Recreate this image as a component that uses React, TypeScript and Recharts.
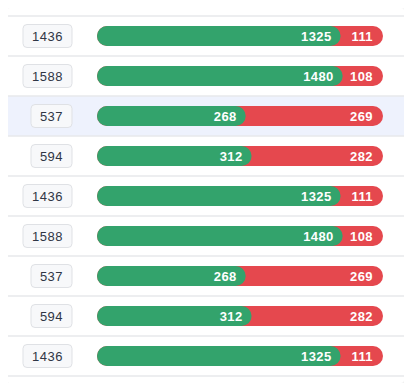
import { BarChart, Bar, XAxis, YAxis, CartesianGrid, LabelList } from "recharts";

// one entry per row, top to bottom
const rowIds = ["r1", "r2", "r3", "r4", "r5", "r6", "r7", "r8", "r9"];
const passed = [1325, 1480, 268, 312, 1325, 1480, 268, 312, 1325];
const failed = [111, 108, 269, 282, 111, 108, 269, 282, 111];
const highlightedRow = 2;

const data = rowIds.map((id, i) => {
  const total = passed[i] + failed[i];
  return { id, passed: passed[i], failed: failed[i], total, share: passed[i] / total };
});

const CARD_W = 397;
const CARD_H = 375;
const MARGIN = { top: 8, right: 21, bottom: 7, left: 0 };
const AXIS_W = 90;
// the green segment never shrinks to nothing, nor swallows the red one
const LEAD = 0.165;
const TAIL = 0.112;

const GREEN = "#33a36c";
const RED = "#e5484e";
const HIGHLIGHT = "#eef2fd";
const LINE = "#e7e8eb";
const FONT = "'Liberation Sans', Arial, Helvetica, sans-serif";

// row boundaries: band edges of the category axis
const rowEdges = ({ offset }: any) => {
  const n = rowIds.length;
  return Array.from({ length: n + 1 }, (_, i) => offset.top + (i * offset.height) / n);
};

const TotalTick = ({ x, y, payload }: any) => {
  const row = data.find((d) => d.id === payload.value);
  if (!row) return null;
  const label = String(row.total);
  const w = label.length * 8 + 17;
  const right = x - 25;
  return (
    <g>
      <rect
        x={right - w}
        y={y - 11.5}
        width={w}
        height={23}
        rx={4}
        fill="#f7f8fa"
        stroke="#dfe1e5"
      />
      <text
        x={right - w / 2}
        y={y}
        dy="0.36em"
        textAnchor="middle"
        fontFamily={FONT}
        fontSize={13}
        letterSpacing={0.5}
        fill="#2f3645"
      >
        {label}
      </text>
    </g>
  );
};

const box = (props: any) => {
  const vb = props.viewBox ?? props;
  return { x: Number(vb.x), y: Number(vb.y), width: Number(vb.width), height: Number(vb.height) };
};

const PassedLabel = (props: any) => {
  const { x, y, width, height } = box(props);
  return (
    <text
      x={x + width - 9}
      y={y + height / 2}
      dy="0.36em"
      textAnchor="end"
      fontFamily={FONT}
      fontSize={13}
      fontWeight={700}
      letterSpacing={0.4}
      fill="#fff"
    >
      {props.value}
    </text>
  );
};

const FailedLabel = (props: any) => {
  const { y, height } = box(props);
  return (
    <text
      x={CARD_W - MARGIN.right - 10}
      y={y + height / 2}
      dy="0.36em"
      textAnchor="end"
      fontFamily={FONT}
      fontSize={13}
      fontWeight={700}
      letterSpacing={0.4}
      fill="#fff"
    >
      {props.value}
    </text>
  );
};

export default function App() {
  return (
    <div
      style={{
        width: CARD_W,
        height: CARD_H,
        marginLeft: -1,
        background: "#fff",
        borderRadius: 3,
        boxShadow: "0 1px 7px rgba(0,0,0,0.18)",
      }}
    >
      <BarChart
        width={CARD_W}
        height={CARD_H}
        data={data}
        layout="vertical"
        margin={MARGIN}
        barSize={20}
      >
        <CartesianGrid
          vertical={false}
          x={0}
          width={CARD_W}
          stroke={LINE}
          strokeWidth={1.5}
          horizontalCoordinatesGenerator={rowEdges}
          horizontalFill={rowIds.map((_, i) => (i === highlightedRow ? HIGHLIGHT : "transparent"))}
          fillOpacity={1}
        />
        <XAxis type="number" domain={[0, 1 + LEAD + TAIL]} hide allowDataOverflow />
        <YAxis
          type="category"
          dataKey="id"
          width={AXIS_W}
          axisLine={false}
          tickLine={false}
          tickSize={0}
          tickMargin={0}
          tick={<TotalTick />}
          interval={0}
        />
        <Bar
          dataKey={(d: any) => d.share + LEAD}
          fill={GREEN}
          radius={10}
          background={{ fill: RED, radius: 10 }}
          isAnimationActive={false}
        >
          <LabelList dataKey="passed" content={PassedLabel} />
          <LabelList dataKey="failed" content={FailedLabel} />
        </Bar>
      </BarChart>
    </div>
  );
}
